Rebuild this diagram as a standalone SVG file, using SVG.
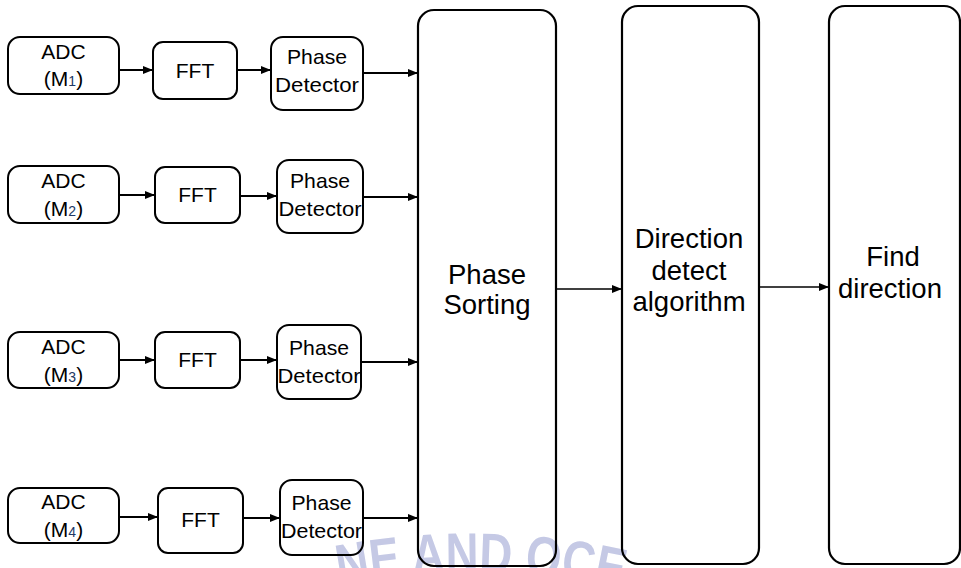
<svg xmlns="http://www.w3.org/2000/svg" width="961" height="568" viewBox="0 0 961 568">
  <style>
    .box { fill: none; stroke: #000; stroke-width: 2; }
    .big { fill: none; stroke: #000; stroke-width: 2.2; }
    .t { font-family: "Liberation Sans", Arial, sans-serif; font-size: 21px; fill: #000; text-anchor: middle; }
    .tb { font-family: "Liberation Sans", Arial, sans-serif; font-size: 27.5px; fill: #000; text-anchor: middle; }
    .sub { font-size: 14px; fill: #203864; }
    .wire { fill: none; stroke: #000; stroke-width: 2; }
    .wire-thin { fill: none; stroke: #000; stroke-width: 1.4; }
    .seal { font-family: "Liberation Sans Narrow", "Liberation Sans", sans-serif; font-weight: bold; font-size: 56px; fill: #c5c9e5; }
  </style>
  <defs>
    <marker id="head" markerUnits="userSpaceOnUse" markerWidth="10" markerHeight="8" refX="10" refY="4" orient="auto">
      <path d="M0,0 L10,4 L0,8 z" fill="#000"/>
    </marker>
    <path id="sealArc" d="M300,593 A700,700 0 0 1 660,598.3"/>
  </defs>

  <rect width="961" height="568" fill="#fff"/>

  <!-- faint seal lettering at the bottom -->
  <text class="seal"><textPath href="#sealArc" startOffset="40" textLength="285" lengthAdjust="spacingAndGlyphs">NE AND OCE</textPath></text>

  <!-- channel 1 -->
  <g id="adc1">
    <rect class="box" x="8" y="37" width="111" height="57" rx="12"/>
    <text class="t" x="63.5" y="59">ADC</text>
    <text class="t" x="63.5" y="86">(M<tspan class="sub">1</tspan>)</text>
  </g>
  <g id="fft1">
    <rect class="box" x="153" y="42" width="84" height="57" rx="10"/>
    <text class="t" x="195" y="78">FFT</text>
  </g>
  <g id="pd1">
    <rect class="box" x="271" y="37" width="92" height="73" rx="12"/>
    <text class="t" x="317" y="64" textLength="60" lengthAdjust="spacingAndGlyphs">Phase</text>
    <text class="t" x="317" y="92" textLength="84" lengthAdjust="spacingAndGlyphs">Detector</text>
  </g>

  <!-- channel 2 -->
  <g id="adc2">
    <rect class="box" x="8" y="166" width="111" height="57" rx="12"/>
    <text class="t" x="63.5" y="188">ADC</text>
    <text class="t" x="63.5" y="216">(M<tspan class="sub">2</tspan>)</text>
  </g>
  <g id="fft2">
    <rect class="box" x="155" y="167" width="85" height="56" rx="10"/>
    <text class="t" x="197.5" y="202">FFT</text>
  </g>
  <g id="pd2">
    <rect class="box" x="277" y="160" width="86" height="73" rx="12"/>
    <text class="t" x="320" y="188" textLength="60" lengthAdjust="spacingAndGlyphs">Phase</text>
    <text class="t" x="320" y="216" textLength="83" lengthAdjust="spacingAndGlyphs">Detector</text>
  </g>

  <!-- channel 3 -->
  <g id="adc3">
    <rect class="box" x="8" y="332" width="111" height="56" rx="12"/>
    <text class="t" x="63.5" y="354">ADC</text>
    <text class="t" x="63.5" y="382">(M<tspan class="sub">3</tspan>)</text>
  </g>
  <g id="fft3">
    <rect class="box" x="155" y="332" width="85" height="56" rx="10"/>
    <text class="t" x="197.5" y="367">FFT</text>
  </g>
  <g id="pd3">
    <rect class="box" x="277" y="325" width="84" height="74" rx="12"/>
    <text class="t" x="319" y="355" textLength="60" lengthAdjust="spacingAndGlyphs">Phase</text>
    <text class="t" x="319" y="383" textLength="83" lengthAdjust="spacingAndGlyphs">Detector</text>
  </g>

  <!-- channel 4 -->
  <g id="adc4">
    <rect class="box" x="8" y="488" width="111" height="55" rx="12"/>
    <text class="t" x="63.5" y="509">ADC</text>
    <text class="t" x="63.5" y="537">(M<tspan class="sub">4</tspan>)</text>
  </g>
  <g id="fft4">
    <rect class="box" x="158" y="488" width="85" height="65" rx="10"/>
    <text class="t" x="200.5" y="527">FFT</text>
  </g>
  <g id="pd4">
    <rect class="box" x="280" y="480" width="83" height="75" rx="12"/>
    <text class="t" x="321.5" y="510" textLength="60" lengthAdjust="spacingAndGlyphs">Phase</text>
    <text class="t" x="321.5" y="538" textLength="81" lengthAdjust="spacingAndGlyphs">Detector</text>
  </g>

  <!-- processing stages -->
  <g id="phase-sorting">
    <rect class="big" x="418" y="10" width="138" height="556" rx="16"/>
    <text class="tb" x="487" y="284">Phase</text>
    <text class="tb" x="487" y="314">Sorting</text>
  </g>
  <g id="direction-detect">
    <rect class="big" x="622" y="6" width="137" height="558" rx="16"/>
    <text class="tb" x="689" y="248">Direction</text>
    <text class="tb" x="689" y="280">detect</text>
    <text class="tb" x="689" y="311">algorithm</text>
  </g>
  <g id="find-direction">
    <rect class="big" x="829" y="6" width="131" height="558" rx="16"/>
    <text class="tb" x="893" y="266">Find</text>
    <text class="tb" x="890" y="298">direction</text>
  </g>

  <g id="connectors">
    <line class="wire" x1="119" y1="70" x2="153" y2="70" marker-end="url(#head)"/>
    <line class="wire" x1="237" y1="70" x2="271" y2="70" marker-end="url(#head)"/>
    <line class="wire" x1="363" y1="73" x2="418" y2="73" marker-end="url(#head)"/>

    <line class="wire" x1="119" y1="195" x2="155" y2="195" marker-end="url(#head)"/>
    <line class="wire" x1="240" y1="196" x2="277" y2="196" marker-end="url(#head)"/>
    <line class="wire" x1="363" y1="197" x2="418" y2="197" marker-end="url(#head)"/>

    <line class="wire" x1="119" y1="360" x2="155" y2="360" marker-end="url(#head)"/>
    <line class="wire" x1="240" y1="360" x2="277" y2="360" marker-end="url(#head)"/>
    <line class="wire" x1="361" y1="362" x2="418" y2="362" marker-end="url(#head)"/>

    <line class="wire" x1="119" y1="517" x2="158" y2="517" marker-end="url(#head)"/>
    <line class="wire" x1="243" y1="518" x2="280" y2="518" marker-end="url(#head)"/>
    <line class="wire" x1="363" y1="518" x2="418" y2="518" marker-end="url(#head)"/>

    <line class="wire-thin" x1="556" y1="289" x2="622" y2="289" marker-end="url(#head)"/>
    <line class="wire-thin" x1="759" y1="287" x2="829" y2="287" marker-end="url(#head)"/>
  </g>
</svg>
